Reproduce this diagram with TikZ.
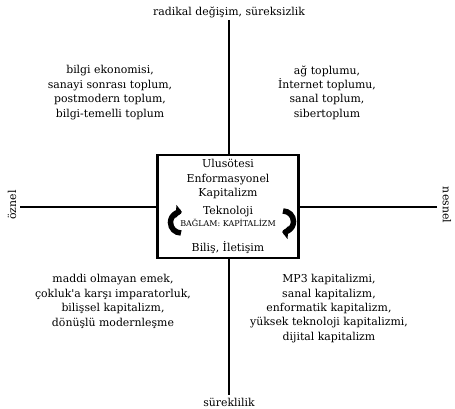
\documentclass[tikz,border=0pt]{standalone}
\usepackage{fontspec}
\setmainfont{DejaVu Serif}
\usetikzlibrary{positioning,arrows.meta}

\begin{document}
\begin{tikzpicture}[x=1pt, y=1pt, axis/.style={line width=2.8pt}, every node/.style={inner sep=0pt, align=center, font=\fontsize{10.9}{14.4}\selectfont}, small/.style={font=\fontsize{8}{9}\selectfont}, turn/.style={line width=5.5pt, -{Triangle[length=6pt, width=13pt]}}]
  \useasboundingbox (0,0) rectangle (455,409);
  % centre box
  \node[draw, line width=2.8pt, minimum width=141pt, minimum height=103pt] (box) at (228,202.5) {};
  \node (title) at (228,230) {Ulusötesi\\Enformasyonel\\Kapitalizm};
  \node (tech) at (228,197) {Teknoloji};
  \node[small] (context) at (228,186) {BAĞLAM: KAPİTALİZM};
  \node (cog) at (228,161) {Biliş, İletişim};
  \draw[turn] (181,176) arc[start angle=270, end angle=85, radius=10.5];
  \draw[turn] (283,198) arc[start angle=90, end angle=-95, radius=10.5];
  % axes
  \coordinate (top) at (229,389);
  \coordinate (bottom) at (229,14);
  \coordinate (left) at (20,202);
  \coordinate (right) at (437,202);
  \draw[axis] (top) -- (top |- box.north);
  \draw[axis] (bottom) -- (bottom |- box.south);
  \draw[axis] (left) -- (left -| box.west);
  \draw[axis] (right) -- (right -| box.east);
  \node (radical) at (229,397) {radikal değişim, süreksizlik};
  \node (cont) at (229,7) {süreklilik};
  \node[rotate=90] (subj) at (12,204) {öznel};
  \node[rotate=-90] (obj) at (447,204) {nesnel};
  % quadrants
  \node (tl) at (110,316.5) {bilgi ekonomisi,\\sanayi sonrası toplum,\\postmodern toplum,\\bilgi-temelli toplum};
  \node (tr) at (327,316.5) {ağ toplumu,\\İnternet toplumu,\\sanal toplum,\\sibertoplum};
  \node (bl) at (113,107.5) {maddi olmayan emek,\\çokluk\textquotesingle a karşı imparatorluk,\\bilişsel kapitalizm,\\dönüşlü modernleşme};
  \node (br) at (329,100.5) {MP3 kapitalizmi,\\sanal kapitalizm,\\enformatik kapitalizm,\\yüksek teknoloji kapitalizmi,\\dijital kapitalizm};
\end{tikzpicture}
\end{document}
